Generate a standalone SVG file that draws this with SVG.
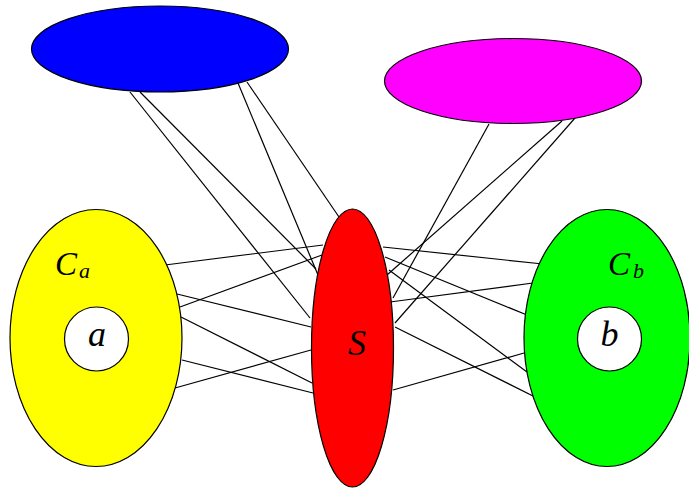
<svg xmlns="http://www.w3.org/2000/svg" width="689" height="490" viewBox="0 0 689 490">
<style>
.n{stroke:#000;stroke-width:1.2}
.e line{stroke:#000;stroke-width:1.2;fill:none}
.t{font-family:"Liberation Serif","Times New Roman",serif;font-style:italic;fill:#000}
</style>
<rect width="689" height="490" fill="#fff"/>
<g id="connectors" class="e">
<line x1="130" y1="92" x2="310" y2="318"/>
<line x1="140" y1="92" x2="316" y2="269"/>
<line x1="238" y1="83" x2="318" y2="275"/>
<line x1="247" y1="82" x2="339" y2="217"/>
<line x1="489" y1="124" x2="393" y2="298"/>
<line x1="562" y1="121" x2="387" y2="275"/>
<line x1="575" y1="118" x2="395" y2="323"/>
<line x1="165" y1="265" x2="323" y2="245"/>
<line x1="177" y1="294" x2="311" y2="327"/>
<line x1="180" y1="307" x2="322" y2="255"/>
<line x1="181" y1="317" x2="312" y2="383"/>
<line x1="182" y1="360" x2="313" y2="393"/>
<line x1="175" y1="388" x2="311" y2="350"/>
<line x1="383" y1="247" x2="543" y2="264"/>
<line x1="385" y1="257" x2="527" y2="315"/>
<line x1="390" y1="302" x2="533" y2="283"/>
<line x1="389" y1="270" x2="527" y2="372"/>
<line x1="395" y1="327" x2="537" y2="398"/>
<line x1="393" y1="390" x2="524" y2="353"/>
</g>
<g id="blue"><ellipse class="n" cx="160" cy="49" rx="128.5" ry="43" fill="#0000ff"/></g>
<g id="magenta"><ellipse class="n" cx="513" cy="81" rx="128.5" ry="42.5" fill="#ff00ff"/></g>
<g id="Ca"><ellipse class="n" cx="96" cy="338" rx="86" ry="128.5" fill="#ffff00"/>
<text class="t" x="55" y="275" font-size="33">C</text><text class="t" x="79" y="278" font-size="22">a</text></g>
<g id="a"><circle class="n" cx="96.5" cy="339" r="32" fill="#fff"/><text class="t" x="97" y="346" font-size="36" text-anchor="middle">a</text></g>
<g id="S"><ellipse class="n" cx="352.5" cy="348" rx="41" ry="139" fill="#ff0000"/><text class="t" x="357" y="355" font-size="36" text-anchor="middle">S</text></g>
<g id="Cb"><ellipse class="n" cx="607" cy="338" rx="83" ry="128.5" fill="#00ff00"/>
<text class="t" x="608" y="275" font-size="33">C</text><text class="t" x="633" y="278" font-size="22">b</text></g>
<g id="b"><circle class="n" cx="609.5" cy="339" r="32" fill="#fff"/><text class="t" x="609.5" y="346" font-size="36" text-anchor="middle">b</text></g>
</svg>
